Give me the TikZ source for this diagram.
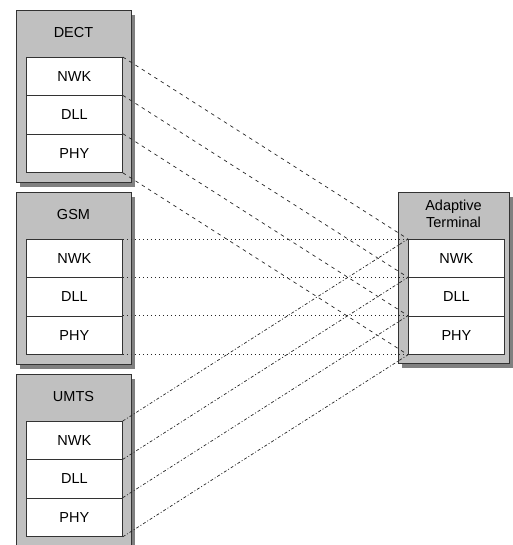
\documentclass[tikz,border=0pt]{standalone}
\usepackage{fontspec}
\setmainfont{Liberation Sans}
\usetikzlibrary{shadows}
\definecolor{boxgrey}{HTML}{C0C0C0}
\definecolor{shadowgrey}{HTML}{808080}
\definecolor{edgegrey}{HTML}{333333}
\definecolor{linkgrey}{HTML}{262626}
\tikzset{
  stack/.style={draw=edgegrey, line width=0.8pt, fill=boxgrey, inner sep=0pt,
    minimum width=115pt, minimum height=172pt, anchor=north west,
    general shadow={fill=shadowgrey, shadow xshift=4pt, shadow yshift=-5pt}},
  layer/.style={draw=edgegrey, line width=0.8pt, fill=white, inner sep=0pt,
    minimum width=96pt, minimum height=38.33pt, anchor=north west,
    font=\fontsize{14.5}{17}\selectfont},
  title/.style={inner sep=0pt, font=\fontsize{14.5}{17.5}\selectfont, align=center},
  dectlink/.style={draw=linkgrey, line width=0.7pt, dash pattern=on 3.5pt off 4pt},
  gsmlink/.style={draw=linkgrey, line width=0.7pt, dash pattern=on 1pt off 3pt},
  umtslink/.style={draw=linkgrey, line width=0.7pt, dash pattern=on 3pt off 2pt on 1pt off 2pt},
}
\begin{document}
\begin{tikzpicture}[x=1pt, y=-1pt]
  \useasboundingbox (0,0) rectangle (512,545);

  % protocol stacks on the left
  \node[stack] (dect) at (16,10) {};
  \node[stack] (gsm)  at (16,192) {};
  \node[stack] (umts) at (16,374) {};
  % terminal stack on the right
  \node[stack, minimum width=111pt, minimum height=171pt] (term) at (398,192) {};

  \node[title] (dect-t) at (73.5,33) {DECT};
  \node[title] (gsm-t)  at (73.5,215) {GSM};
  \node[title] (umts-t) at (73.5,397) {UMTS};
  \node[title] (term-t) at (453.5,213.8) {Adaptive\\Terminal};

  % layers
  \node[layer] (dect-nwk) at (26,57) {NWK};
  \node[layer] (dect-dll) at (26,95.33) {DLL};
  \node[layer] (dect-phy) at (26,133.67) {PHY};

  \node[layer] (gsm-nwk) at (26,239) {NWK};
  \node[layer] (gsm-dll) at (26,277.33) {DLL};
  \node[layer] (gsm-phy) at (26,315.67) {PHY};

  \node[layer] (umts-nwk) at (26,421) {NWK};
  \node[layer] (umts-dll) at (26,459.33) {DLL};
  \node[layer] (umts-phy) at (26,497.67) {PHY};

  \node[layer] (term-nwk) at (408,239) {NWK};
  \node[layer] (term-dll) at (408,277.33) {DLL};
  \node[layer] (term-phy) at (408,315.67) {PHY};

  % layer boundaries mapped onto the terminal
  \foreach \src/\style in {dect/dectlink, gsm/gsmlink, umts/umtslink}{
    \path[\style] (\src-nwk.north east) -- (term-nwk.north west);
    \path[\style] (\src-dll.north east) -- (term-dll.north west);
    \path[\style] (\src-phy.north east) -- (term-phy.north west);
    \path[\style] (\src-phy.south east) -- (term-phy.south west);
  }
\end{tikzpicture}
\end{document}
